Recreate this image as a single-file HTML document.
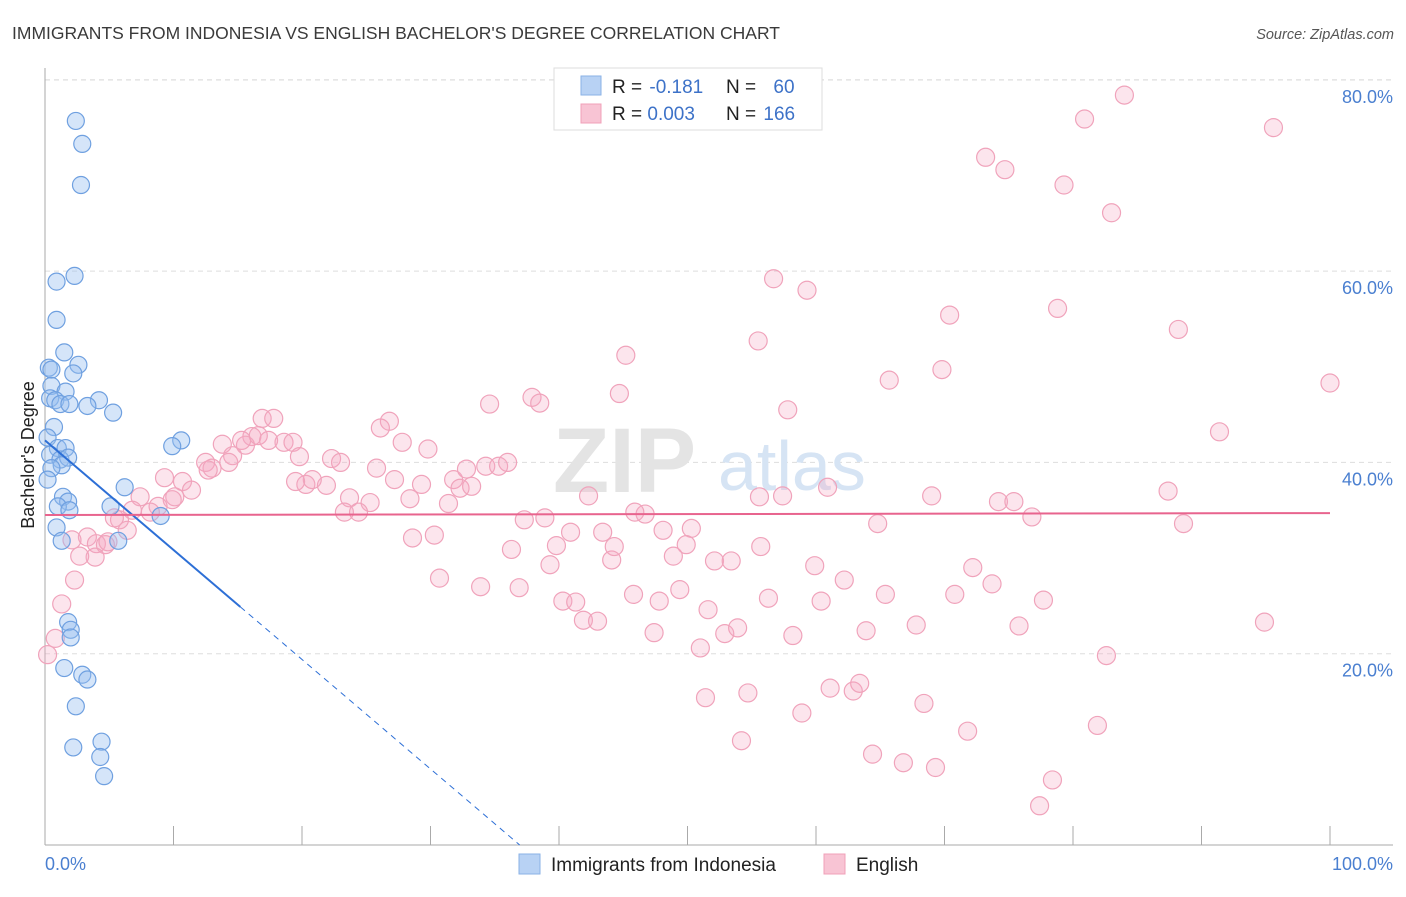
<!DOCTYPE html>
<html><head><meta charset="utf-8"><style>
body{margin:0;background:#fff;font-family:"Liberation Sans",sans-serif}
svg text{font-family:"Liberation Sans",sans-serif}
</style></head><body>
<svg id="chart" width="1406" height="892" xmlns="http://www.w3.org/2000/svg">
<text x="12" y="39" font-size="17.5" fill="#3a3a3a">IMMIGRANTS FROM INDONESIA VS ENGLISH BACHELOR'S DEGREE CORRELATION CHART</text>
<text x="1394" y="39" font-size="14.5" font-style="italic" fill="#555" text-anchor="end">Source: ZipAtlas.com</text>
<g id="grid"></g>
<g>
<text x="553" y="492" font-size="92" font-family="Liberation Serif" fill="#e4e4e4" font-weight="bold">ZIP</text>
<text x="718" y="490" font-size="70" fill="#d6e4f4">atlas</text>
</g>
<g id="axes"></g>
<g id="pink"></g>
<g id="blue"></g>
<g id="lines"></g>
<text transform="translate(34,455) rotate(-90)" font-size="18" fill="#222" text-anchor="middle">Bachelor's Degree</text>
<g>
<rect x="554" y="68" width="268" height="62" fill="#fff" stroke="#ddd"/>
<rect x="581" y="76" width="20" height="19" fill="#b8d2f4" stroke="#8ab2e6"/>
<rect x="581" y="104" width="20" height="19" fill="#f8c4d4" stroke="#f0a0b8"/>
<text x="612" y="93" font-size="19" fill="#222">R = <tspan fill="#3d72c8" dx="2">-0.181</tspan></text>
<text x="726" y="93" font-size="19" fill="#222">N = <tspan fill="#3d72c8" dx="12">60</tspan></text>
<text x="612" y="120" font-size="19" fill="#222">R = <tspan fill="#3d72c8">0.003</tspan></text>
<text x="726" y="120" font-size="19" fill="#222">N = <tspan fill="#3d72c8" dx="2">166</tspan></text>
</g>
<g>
<rect x="519" y="854" width="21" height="20" fill="#b8d2f4" stroke="#8ab2e6"/>
<text x="551" y="871" font-size="19" fill="#222">Immigrants from Indonesia</text>
<rect x="824" y="854" width="21" height="20" fill="#f8c4d4" stroke="#f0a0b8"/>
<text x="856" y="871" font-size="19" fill="#222">English</text>
</g>
</svg>
<script>
const yTicks=[20,40,60,80];
const yTickLabels=["20.0%","40.0%","60.0%","80.0%"];
const xTicks=[0,10,20,30,40,50,60,70,80,90,100];
const xEndLabels=["0.0%","100.0%"];
const blueX=[2.4,2.9,2.8,2.3,0.9,0.9,1.5,2.6,0.3,0.5,2.2,0.5,1.6,0.4,0.8,4.2,1.2,1.9,3.3,5.3,0.7,0.2,10.6,9.9,1.0,1.6,0.4,1.2,1.8,1.3,0.5,0.2,6.2,1.4,1.8,1.0,5.1,1.9,9.0,0.9,5.7,1.3,1.8,2.0,2.0,1.5,2.9,3.3,2.4,2.2,4.4,4.3,4.6];
const blueY=[75.7,73.3,69.0,59.5,58.9,54.9,51.5,50.2,49.9,49.7,49.3,48.0,47.4,46.7,46.5,46.5,46.1,46.1,45.9,45.2,43.7,42.6,42.3,41.7,41.5,41.5,40.8,40.3,40.5,39.7,39.4,38.2,37.4,36.4,35.9,35.4,35.4,35.0,34.4,33.2,31.8,31.8,23.3,22.5,21.7,18.5,17.8,17.3,14.5,10.2,10.8,9.2,7.2];
const pinkX=[84.0,95.6,80.9,73.2,74.7,79.3,83.0,56.7,59.3,70.4,78.8,88.2,55.5,45.2,65.7,69.8,100.0,44.7,34.6,37.9,38.5,57.8,26.8,16.9,17.8,13.8,16.1,14.6,15.6,18.6,19.3,19.8,12.5,13.0,14.3,15.3,16.6,17.4,26.1,27.8,29.8,22.3,23.0,25.8,20.3,21.9,20.8,19.5,23.7,25.3,23.3,24.4,28.4,31.4,27.2,29.3,31.8,32.8,32.3,33.2,34.3,35.3,36.0,9.3,10.7,11.4,12.7,10.1,9.9,8.8,8.2,7.4,6.8,5.8,5.4,6.4,3.3,4.0,4.7,4.9,3.9,2.7,2.1,2.3,1.3,0.8,0.2,42.3,46.7,45.9,37.3,38.9,40.9,39.8,43.4,44.1,44.3,48.1,50.3,49.9,48.9,55.6,52.1,53.4,55.7,57.4,60.9,64.8,69.0,74.2,75.4,76.8,87.4,88.6,91.4,28.6,30.3,36.3,39.3,33.9,30.7,36.9,40.3,41.3,41.9,43.0,45.8,47.8,49.4,51.6,52.9,53.9,58.2,56.3,59.9,62.2,65.4,63.9,60.4,67.8,70.8,72.2,73.7,75.8,77.7,82.6,51.0,47.4,51.4,54.7,58.9,61.1,62.9,63.4,68.4,54.2,64.4,66.8,69.3,71.8,81.9,78.4,77.4,94.9];
const pinkY=[78.4,75.0,75.9,71.9,70.6,69.0,66.1,59.2,58.0,55.4,56.1,53.9,52.7,51.2,48.6,49.7,48.3,47.2,46.1,46.8,46.2,45.5,44.3,44.6,44.6,41.9,42.7,40.7,41.8,42.1,42.1,40.6,40.0,39.4,40.0,42.3,42.8,42.3,43.6,42.1,41.4,40.4,40.0,39.4,37.7,37.6,38.2,38.0,36.3,35.8,34.8,34.8,36.2,35.7,38.2,37.7,38.2,39.3,37.3,37.5,39.6,39.6,40.0,38.4,38.0,37.1,39.2,36.4,36.1,35.4,34.8,36.4,35.0,34.0,34.2,32.9,32.2,31.5,31.4,31.7,30.1,30.2,31.9,27.7,25.2,21.6,19.9,36.5,34.6,34.8,34.0,34.2,32.7,31.3,32.7,29.8,31.2,32.9,33.1,31.4,30.2,36.4,29.7,29.7,31.2,36.5,37.4,33.6,36.5,35.9,35.9,34.3,37.0,33.6,43.2,32.1,32.4,30.9,29.3,27.0,27.9,26.9,25.5,25.4,23.5,23.4,26.2,25.5,26.7,24.6,22.1,22.7,21.9,25.8,29.2,27.7,26.2,22.4,25.5,23.0,26.2,29.0,27.3,22.9,25.6,19.8,20.6,22.2,15.4,15.9,13.8,16.4,16.1,16.9,14.8,10.9,9.5,8.6,8.1,11.9,12.5,6.8,4.1,23.3];
const blueTrend=[42.3,-1.145];
const pinkTrend=[34.5,0.002];
const NS="http://www.w3.org/2000/svg";
const X=v=>45+v*12.85, Y=v=>845-v*9.565;
function mk(tag,attrs,parent){const e=document.createElementNS(NS,tag);for(const k in attrs)e.setAttribute(k,attrs[k]);parent.appendChild(e);return e;}
const grid=document.getElementById('grid'),axes=document.getElementById('axes');
yTicks.forEach((t,i)=>{
  const l=mk('line',{x1:45,x2:1393,y1:Y(t),y2:Y(t),stroke:'#ddd','stroke-dasharray':'5,4'},grid);
  
  
  const tx=mk('text',{x:1393,y:Y(t)+23,'font-size':18,fill:'#4a7fd0','text-anchor':'end'},axes);
  tx.textContent=yTickLabels[i];
  
  
});
const topGrid=mk('line',{x1:45,x2:1393,y1:80,y2:80,stroke:'#ddd','stroke-dasharray':'5,4'},grid);


const ya=mk('line',{x1:45,x2:45,y1:68,y2:845,stroke:'#aaa'},axes);


const xa=mk('line',{x1:45,x2:1393,y1:845,y2:845,stroke:'#aaa'},axes);


xTicks.forEach(t=>{
  const l=mk('line',{x1:X(t),x2:X(t),y1:826,y2:845,stroke:'#aaa'},axes);
  
  
});
const xl0=mk('text',{x:45,y:870,'font-size':18,fill:'#4a7fd0'},axes);xl0.textContent=xEndLabels[0];


const xl1=mk('text',{x:1393,y:870,'font-size':18,fill:'#4a7fd0','text-anchor':'end'},axes);xl1.textContent=xEndLabels[1];


const pg=document.getElementById('pink');
pinkX.forEach((x,i)=>{const c=mk('circle',{cx:X(x),cy:Y(pinkY[i]),r:9,fill:'rgba(246,170,196,0.3)',stroke:'#f0a3bb','stroke-width':1.2},pg);
  
  });
const bg=document.getElementById('blue');
blueX.forEach((x,i)=>{const c=mk('circle',{cx:X(x),cy:Y(blueY[i]),r:8.5,fill:'rgba(150,190,240,0.4)',stroke:'#6fa0e0','stroke-width':1.2},bg);
  
  });
const lg=document.getElementById('lines');
const bx1=15.2, bx2=-blueTrend[0]/blueTrend[1];
const b1=mk('line',{x1:X(0),y1:Y(blueTrend[0]),x2:X(bx1),y2:Y(blueTrend[0]+blueTrend[1]*bx1),stroke:'#2d6fd6','stroke-width':2},lg);


const b2=mk('line',{x1:X(bx1),y1:Y(blueTrend[0]+blueTrend[1]*bx1),x2:X(bx2),y2:Y(0),stroke:'#2d6fd6','stroke-width':1,'stroke-dasharray':'6,5'},lg);


const p1=mk('line',{x1:X(0),y1:Y(pinkTrend[0]),x2:X(100),y2:Y(pinkTrend[0]+pinkTrend[1]*100),stroke:'#e8648e','stroke-width':2},lg);


</script>
</body></html>
